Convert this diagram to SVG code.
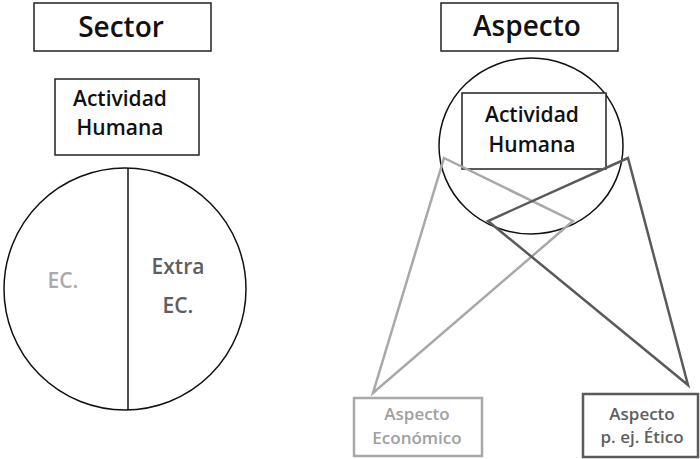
<svg xmlns="http://www.w3.org/2000/svg" width="700" height="459" viewBox="0 0 700 459">
<style>
.box{fill:#fff;stroke:#222;stroke-width:1.5}
.t{font-family:"Open Sans","Noto Sans",sans-serif;text-anchor:middle}
.title{font-size:28px;font-weight:600;fill:#111}
.act{font-size:21px;font-weight:600;fill:#111}
.sec{font-size:21px;font-weight:600}
.lab{font-size:17px;font-weight:600}
.light{stroke:#a8a8a8;stroke-width:2.5;fill:none}
.dark{stroke:#5a5a5a;stroke-width:2.5;fill:none}
.line{stroke:#111;stroke-width:1.5;fill:none}
</style>
<rect width="700" height="459" fill="#fff"/>
<g id="sector">
<rect class="box" x="34" y="3" width="177" height="48"/>
<text class="t title" x="121" y="37">Sector</text>
</g>
<g id="actividad-left">
<rect class="box" x="55" y="79" width="144" height="76"/>
<text class="t act" x="120" y="106">Actividad</text>
<text class="t act" x="120" y="135">Humana</text>
</g>
<g id="sector-circle">
<circle class="line" cx="125" cy="289" r="121"/>
<line class="line" x1="128" y1="168" x2="128" y2="410"/>
<text class="t sec" x="63" y="288" fill="#aaaaaa">EC.</text>
<text class="t sec" x="178" y="274" fill="#5e5e5e">Extra</text>
<text class="t sec" x="178" y="313" fill="#5e5e5e">EC.</text>
</g>
<g id="aspecto">
<rect class="box" x="441" y="3" width="177" height="48"/>
<text class="t title" x="527" y="36">Aspecto</text>
</g>
<g id="aspecto-circle">
<ellipse class="line" cx="531" cy="146" rx="92" ry="88"/>
</g>
<g id="actividad-right">
<rect class="box" x="462" y="93" width="144" height="76"/>
<text class="t act" x="532" y="122">Actividad</text>
<text class="t act" x="532" y="152">Humana</text>
</g>
<g id="connectors">
<polygon class="light" points="444,158 573,221 373,393"/>
<polygon class="dark" points="628,158 488,221 688,385"/>
</g>
<g id="aspecto-economico">
<rect x="354" y="398" width="128" height="58" fill="#fff" stroke="#a8a8a8" stroke-width="2.5"/>
<text class="t lab" x="417" y="420" fill="#a0a0a0">Aspecto</text>
<text class="t lab" x="417" y="444" fill="#a0a0a0">Económico</text>
</g>
<g id="aspecto-etico">
<rect x="583" y="394" width="115" height="63" fill="#fff" stroke="#5a5a5a" stroke-width="2.5"/>
<text class="t lab" x="642" y="420" fill="#5e5e5e">Aspecto</text>
<text class="t lab" x="642" y="443" fill="#5e5e5e">p. ej. Ético</text>
</g>
</svg>
